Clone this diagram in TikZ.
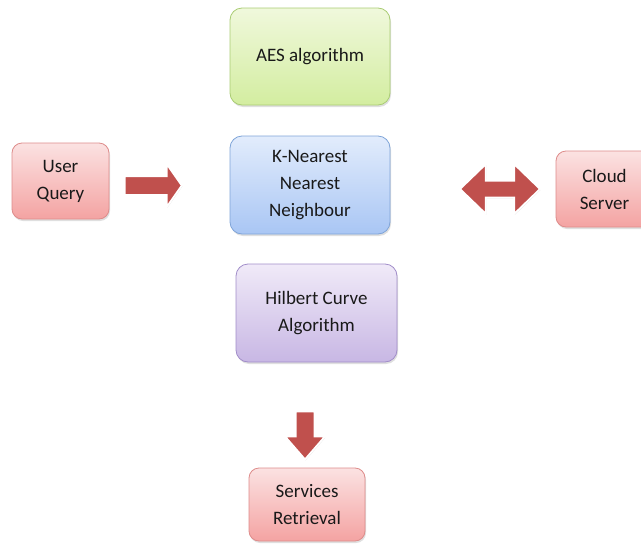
\documentclass[tikz,border=0pt]{standalone}
\usepackage{fontspec}
\setmainfont{Carlito}
\usetikzlibrary{shapes.arrows,shadows}
\definecolor{arrowred}{HTML}{C0504D}
\definecolor{redtop}{HTML}{FBE2E2}
\definecolor{redbot}{HTML}{F4A3A2}
\definecolor{redline}{HTML}{DE8C8B}
\definecolor{greentop}{HTML}{F0F8DC}
\definecolor{greenbot}{HTML}{D3EDA0}
\definecolor{greenline}{HTML}{A9CC73}
\definecolor{bluetop}{HTML}{E2ECFC}
\definecolor{bluebot}{HTML}{A9C6F4}
\definecolor{blueline}{HTML}{7FA4D8}
\definecolor{purptop}{HTML}{F0EAF8}
\definecolor{purpbot}{HTML}{C8B7E4}
\definecolor{purpline}{HTML}{A18DC9}
\tikzset{
  box/.style={rounded corners=12pt, align=center, inner sep=2pt,
    font=\fontsize{19}{27}\selectfont, text=black!90,
    line width=0.8pt,
    drop shadow={shadow xshift=1pt, shadow yshift=-2pt, opacity=0.25}},
  redbox/.style={box, draw=redline, top color=redtop, bottom color=redbot},
  greenbox/.style={box, draw=greenline, top color=greentop, bottom color=greenbot},
  bluebox/.style={box, draw=blueline, top color=bluetop, bottom color=bluebot},
  purpbox/.style={box, draw=purpline, top color=purptop, bottom color=purpbot},
  blockarrow/.style={fill=arrowred, draw=white, line width=1.8pt,
    drop shadow={shadow xshift=0.5pt, shadow yshift=-1pt, opacity=0.3}},
}
\begin{document}
\begin{tikzpicture}[x=1pt,y=-1pt]
\useasboundingbox (0,0) rectangle (641,544);
\clip (0,0) rectangle (641,544);
\node[greenbox, minimum width=160pt, minimum height=97pt] (aes) at (310,56.5) {AES algorithm};
\node[bluebox, minimum width=160pt, minimum height=98pt] (knn) at (310,185) {K-Nearest\\Nearest\\Neighbour};
\node[redbox, rounded corners=10pt, minimum width=97pt, minimum height=76pt] (user) at (60.5,181) {User\\Query};
\node[redbox, rounded corners=10pt, minimum width=97pt, minimum height=76pt] (cloud) at (604.5,189) {Cloud\\Server};
\node[purpbox, minimum width=161pt, minimum height=98pt] (hilbert) at (316.5,313) {Hilbert Curve\\Algorithm};
\node[redbox, rounded corners=10pt, minimum width=116pt, minimum height=73pt] (serv) at (307,504.5) {Services\\Retrieval};
% block arrows
\node[blockarrow, single arrow, inner xsep=0pt, inner ysep=8.5pt, minimum height=57pt,
      single arrow head extend=12pt, single arrow tip angle=110] (a1) at (150,185.5) {};
\node[blockarrow, double arrow, inner xsep=0pt, inner ysep=7.5pt, minimum height=80pt,
      double arrow head extend=16.5pt, double arrow tip angle=88] (a2) at (500,189) {};
\node[blockarrow, single arrow, rotate=-90, inner xsep=0pt, inner ysep=8.5pt, minimum height=48pt,
      single arrow head extend=10.5pt, single arrow tip angle=82] (a3) at (305,430) {};
\end{tikzpicture}
\end{document}
